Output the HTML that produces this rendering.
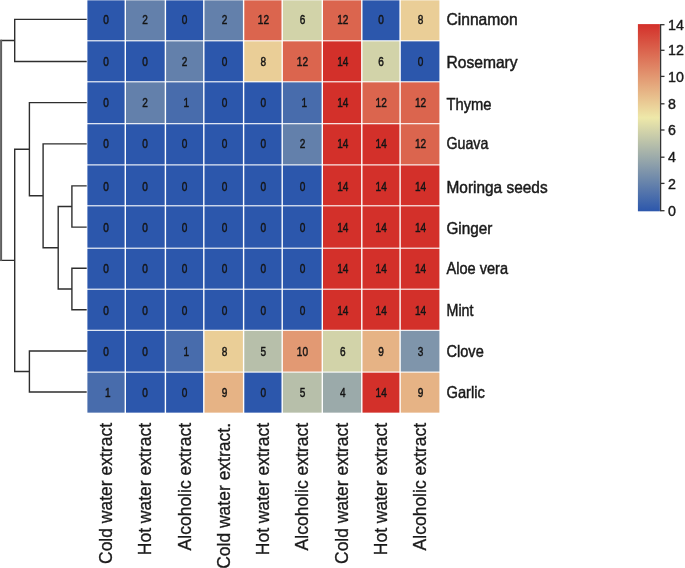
<!DOCTYPE html>
<html><head><meta charset="utf-8"><style>
html,body{margin:0;padding:0;background:#fff;width:685px;height:568px;overflow:hidden}
text{font-family:"Liberation Sans",sans-serif}
</style></head><body>
<svg width="685" height="568" viewBox="0 0 685 568" style="display:block;filter:blur(0.5px)">
<rect x="0" y="0" width="685" height="568" fill="#fff"/>
<rect x="87.40" y="0.35" width="37.20" height="39.90" fill="#2c57ac"/>
<rect x="126.00" y="0.35" width="38.70" height="39.90" fill="#6380ab"/>
<rect x="166.10" y="0.35" width="37.00" height="39.90" fill="#2c57ac"/>
<rect x="204.50" y="0.35" width="38.40" height="39.90" fill="#6380ab"/>
<rect x="244.30" y="0.35" width="37.20" height="39.90" fill="#db654e"/>
<rect x="282.90" y="0.35" width="38.70" height="39.90" fill="#d2d3a9"/>
<rect x="323.00" y="0.35" width="38.10" height="39.90" fill="#db654e"/>
<rect x="362.50" y="0.35" width="36.90" height="39.90" fill="#2c57ac"/>
<rect x="400.80" y="0.35" width="38.60" height="39.90" fill="#eace97"/>
<rect x="87.40" y="41.35" width="37.20" height="39.90" fill="#2c57ac"/>
<rect x="126.00" y="41.35" width="38.70" height="39.90" fill="#2c57ac"/>
<rect x="166.10" y="41.35" width="37.00" height="39.90" fill="#6380ab"/>
<rect x="204.50" y="41.35" width="38.40" height="39.90" fill="#2c57ac"/>
<rect x="244.30" y="41.35" width="37.20" height="39.90" fill="#eace97"/>
<rect x="282.90" y="41.35" width="38.70" height="39.90" fill="#db654e"/>
<rect x="323.00" y="41.35" width="38.10" height="39.90" fill="#d3302a"/>
<rect x="362.50" y="41.35" width="36.90" height="39.90" fill="#d2d3a9"/>
<rect x="400.80" y="41.35" width="38.60" height="39.90" fill="#2c57ac"/>
<rect x="87.40" y="82.35" width="37.20" height="40.80" fill="#2c57ac"/>
<rect x="126.00" y="82.35" width="38.70" height="40.80" fill="#6380ab"/>
<rect x="166.10" y="82.35" width="37.00" height="40.80" fill="#486cac"/>
<rect x="204.50" y="82.35" width="38.40" height="40.80" fill="#2c57ac"/>
<rect x="244.30" y="82.35" width="37.20" height="40.80" fill="#2c57ac"/>
<rect x="282.90" y="82.35" width="38.70" height="40.80" fill="#486cac"/>
<rect x="323.00" y="82.35" width="38.10" height="40.80" fill="#d3302a"/>
<rect x="362.50" y="82.35" width="36.90" height="40.80" fill="#db654e"/>
<rect x="400.80" y="82.35" width="38.60" height="40.80" fill="#db654e"/>
<rect x="87.40" y="124.25" width="37.20" height="40.10" fill="#2c57ac"/>
<rect x="126.00" y="124.25" width="38.70" height="40.10" fill="#2c57ac"/>
<rect x="166.10" y="124.25" width="37.00" height="40.10" fill="#2c57ac"/>
<rect x="204.50" y="124.25" width="38.40" height="40.10" fill="#2c57ac"/>
<rect x="244.30" y="124.25" width="37.20" height="40.10" fill="#2c57ac"/>
<rect x="282.90" y="124.25" width="38.70" height="40.10" fill="#6380ab"/>
<rect x="323.00" y="124.25" width="38.10" height="40.10" fill="#d3302a"/>
<rect x="362.50" y="124.25" width="36.90" height="40.10" fill="#d3302a"/>
<rect x="400.80" y="124.25" width="38.60" height="40.10" fill="#db654e"/>
<rect x="87.40" y="165.45" width="37.20" height="39.80" fill="#2c57ac"/>
<rect x="126.00" y="165.45" width="38.70" height="39.80" fill="#2c57ac"/>
<rect x="166.10" y="165.45" width="37.00" height="39.80" fill="#2c57ac"/>
<rect x="204.50" y="165.45" width="38.40" height="39.80" fill="#2c57ac"/>
<rect x="244.30" y="165.45" width="37.20" height="39.80" fill="#2c57ac"/>
<rect x="282.90" y="165.45" width="38.70" height="39.80" fill="#2c57ac"/>
<rect x="323.00" y="165.45" width="38.10" height="39.80" fill="#d3302a"/>
<rect x="362.50" y="165.45" width="36.90" height="39.80" fill="#d3302a"/>
<rect x="400.80" y="165.45" width="38.60" height="39.80" fill="#d3302a"/>
<rect x="87.40" y="206.35" width="37.20" height="41.30" fill="#2c57ac"/>
<rect x="126.00" y="206.35" width="38.70" height="41.30" fill="#2c57ac"/>
<rect x="166.10" y="206.35" width="37.00" height="41.30" fill="#2c57ac"/>
<rect x="204.50" y="206.35" width="38.40" height="41.30" fill="#2c57ac"/>
<rect x="244.30" y="206.35" width="37.20" height="41.30" fill="#2c57ac"/>
<rect x="282.90" y="206.35" width="38.70" height="41.30" fill="#2c57ac"/>
<rect x="323.00" y="206.35" width="38.10" height="41.30" fill="#d3302a"/>
<rect x="362.50" y="206.35" width="36.90" height="41.30" fill="#d3302a"/>
<rect x="400.80" y="206.35" width="38.60" height="41.30" fill="#d3302a"/>
<rect x="87.40" y="248.75" width="37.20" height="39.90" fill="#2c57ac"/>
<rect x="126.00" y="248.75" width="38.70" height="39.90" fill="#2c57ac"/>
<rect x="166.10" y="248.75" width="37.00" height="39.90" fill="#2c57ac"/>
<rect x="204.50" y="248.75" width="38.40" height="39.90" fill="#2c57ac"/>
<rect x="244.30" y="248.75" width="37.20" height="39.90" fill="#2c57ac"/>
<rect x="282.90" y="248.75" width="38.70" height="39.90" fill="#2c57ac"/>
<rect x="323.00" y="248.75" width="38.10" height="39.90" fill="#d3302a"/>
<rect x="362.50" y="248.75" width="36.90" height="39.90" fill="#d3302a"/>
<rect x="400.80" y="248.75" width="38.60" height="39.90" fill="#d3302a"/>
<rect x="87.40" y="289.75" width="37.20" height="40.00" fill="#2c57ac"/>
<rect x="126.00" y="289.75" width="38.70" height="40.00" fill="#2c57ac"/>
<rect x="166.10" y="289.75" width="37.00" height="40.00" fill="#2c57ac"/>
<rect x="204.50" y="289.75" width="38.40" height="40.00" fill="#2c57ac"/>
<rect x="244.30" y="289.75" width="37.20" height="40.00" fill="#2c57ac"/>
<rect x="282.90" y="289.75" width="38.70" height="40.00" fill="#2c57ac"/>
<rect x="323.00" y="289.75" width="38.10" height="40.00" fill="#d3302a"/>
<rect x="362.50" y="289.75" width="36.90" height="40.00" fill="#d3302a"/>
<rect x="400.80" y="289.75" width="38.60" height="40.00" fill="#d3302a"/>
<rect x="87.40" y="330.85" width="37.20" height="40.70" fill="#2c57ac"/>
<rect x="126.00" y="330.85" width="38.70" height="40.70" fill="#2c57ac"/>
<rect x="166.10" y="330.85" width="37.00" height="40.70" fill="#486cac"/>
<rect x="204.50" y="330.85" width="38.40" height="40.70" fill="#eace97"/>
<rect x="244.30" y="330.85" width="37.20" height="40.70" fill="#b7bfaa"/>
<rect x="282.90" y="330.85" width="38.70" height="40.70" fill="#e29973"/>
<rect x="323.00" y="330.85" width="38.10" height="40.70" fill="#d2d3a9"/>
<rect x="362.50" y="330.85" width="36.90" height="40.70" fill="#e6b385"/>
<rect x="400.80" y="330.85" width="38.60" height="40.70" fill="#7f95ab"/>
<rect x="87.40" y="372.65" width="37.20" height="40.00" fill="#486cac"/>
<rect x="126.00" y="372.65" width="38.70" height="40.00" fill="#2c57ac"/>
<rect x="166.10" y="372.65" width="37.00" height="40.00" fill="#2c57ac"/>
<rect x="204.50" y="372.65" width="38.40" height="40.00" fill="#e6b385"/>
<rect x="244.30" y="372.65" width="37.20" height="40.00" fill="#2c57ac"/>
<rect x="282.90" y="372.65" width="38.70" height="40.00" fill="#b7bfaa"/>
<rect x="323.00" y="372.65" width="38.10" height="40.00" fill="#9baaaa"/>
<rect x="362.50" y="372.65" width="36.90" height="40.00" fill="#d3302a"/>
<rect x="400.80" y="372.65" width="38.60" height="40.00" fill="#e6b385"/>
<g transform="translate(106.00,20.00) scale(0.8,1)"><text x="0" y="0" font-size="12.6" fill="#141414" text-anchor="middle" dominant-baseline="central" font-family="Liberation Sans" font-weight="normal" stroke="#141414" stroke-width="0.45">0</text></g>
<g transform="translate(144.95,20.00) scale(0.8,1)"><text x="0" y="0" font-size="12.6" fill="#141414" text-anchor="middle" dominant-baseline="central" font-family="Liberation Sans" font-weight="normal" stroke="#141414" stroke-width="0.45">2</text></g>
<g transform="translate(184.60,20.00) scale(0.8,1)"><text x="0" y="0" font-size="12.6" fill="#141414" text-anchor="middle" dominant-baseline="central" font-family="Liberation Sans" font-weight="normal" stroke="#141414" stroke-width="0.45">0</text></g>
<g transform="translate(224.50,20.00) scale(0.8,1)"><text x="0" y="0" font-size="12.6" fill="#141414" text-anchor="middle" dominant-baseline="central" font-family="Liberation Sans" font-weight="normal" stroke="#141414" stroke-width="0.45">2</text></g>
<g transform="translate(263.40,20.00) scale(0.8,1)"><text x="0" y="0" font-size="12.6" fill="#141414" text-anchor="middle" dominant-baseline="central" font-family="Liberation Sans" font-weight="normal" stroke="#141414" stroke-width="0.45">12</text></g>
<g transform="translate(302.45,20.00) scale(0.8,1)"><text x="0" y="0" font-size="12.6" fill="#141414" text-anchor="middle" dominant-baseline="central" font-family="Liberation Sans" font-weight="normal" stroke="#141414" stroke-width="0.45">6</text></g>
<g transform="translate(342.85,20.00) scale(0.8,1)"><text x="0" y="0" font-size="12.6" fill="#141414" text-anchor="middle" dominant-baseline="central" font-family="Liberation Sans" font-weight="normal" stroke="#141414" stroke-width="0.45">12</text></g>
<g transform="translate(381.15,20.00) scale(0.8,1)"><text x="0" y="0" font-size="12.6" fill="#141414" text-anchor="middle" dominant-baseline="central" font-family="Liberation Sans" font-weight="normal" stroke="#141414" stroke-width="0.45">0</text></g>
<g transform="translate(420.60,20.00) scale(0.8,1)"><text x="0" y="0" font-size="12.6" fill="#141414" text-anchor="middle" dominant-baseline="central" font-family="Liberation Sans" font-weight="normal" stroke="#141414" stroke-width="0.45">8</text></g>
<g transform="translate(106.00,61.90) scale(0.8,1)"><text x="0" y="0" font-size="12.6" fill="#141414" text-anchor="middle" dominant-baseline="central" font-family="Liberation Sans" font-weight="normal" stroke="#141414" stroke-width="0.45">0</text></g>
<g transform="translate(144.95,61.90) scale(0.8,1)"><text x="0" y="0" font-size="12.6" fill="#141414" text-anchor="middle" dominant-baseline="central" font-family="Liberation Sans" font-weight="normal" stroke="#141414" stroke-width="0.45">0</text></g>
<g transform="translate(184.60,61.90) scale(0.8,1)"><text x="0" y="0" font-size="12.6" fill="#141414" text-anchor="middle" dominant-baseline="central" font-family="Liberation Sans" font-weight="normal" stroke="#141414" stroke-width="0.45">2</text></g>
<g transform="translate(224.50,61.90) scale(0.8,1)"><text x="0" y="0" font-size="12.6" fill="#141414" text-anchor="middle" dominant-baseline="central" font-family="Liberation Sans" font-weight="normal" stroke="#141414" stroke-width="0.45">0</text></g>
<g transform="translate(263.40,61.90) scale(0.8,1)"><text x="0" y="0" font-size="12.6" fill="#141414" text-anchor="middle" dominant-baseline="central" font-family="Liberation Sans" font-weight="normal" stroke="#141414" stroke-width="0.45">8</text></g>
<g transform="translate(302.45,61.90) scale(0.8,1)"><text x="0" y="0" font-size="12.6" fill="#141414" text-anchor="middle" dominant-baseline="central" font-family="Liberation Sans" font-weight="normal" stroke="#141414" stroke-width="0.45">12</text></g>
<g transform="translate(342.85,61.90) scale(0.8,1)"><text x="0" y="0" font-size="12.6" fill="#141414" text-anchor="middle" dominant-baseline="central" font-family="Liberation Sans" font-weight="normal" stroke="#141414" stroke-width="0.45">14</text></g>
<g transform="translate(381.15,61.90) scale(0.8,1)"><text x="0" y="0" font-size="12.6" fill="#141414" text-anchor="middle" dominant-baseline="central" font-family="Liberation Sans" font-weight="normal" stroke="#141414" stroke-width="0.45">6</text></g>
<g transform="translate(420.60,61.90) scale(0.8,1)"><text x="0" y="0" font-size="12.6" fill="#141414" text-anchor="middle" dominant-baseline="central" font-family="Liberation Sans" font-weight="normal" stroke="#141414" stroke-width="0.45">0</text></g>
<g transform="translate(106.00,102.80) scale(0.8,1)"><text x="0" y="0" font-size="12.6" fill="#141414" text-anchor="middle" dominant-baseline="central" font-family="Liberation Sans" font-weight="normal" stroke="#141414" stroke-width="0.45">0</text></g>
<g transform="translate(144.95,102.80) scale(0.8,1)"><text x="0" y="0" font-size="12.6" fill="#141414" text-anchor="middle" dominant-baseline="central" font-family="Liberation Sans" font-weight="normal" stroke="#141414" stroke-width="0.45">2</text></g>
<g transform="translate(186.40,102.80) scale(0.8,1)"><text x="0" y="0" font-size="12.6" fill="#141414" text-anchor="middle" dominant-baseline="central" font-family="Liberation Sans" font-weight="normal" stroke="#141414" stroke-width="0.45">1</text></g>
<g transform="translate(224.50,102.80) scale(0.8,1)"><text x="0" y="0" font-size="12.6" fill="#141414" text-anchor="middle" dominant-baseline="central" font-family="Liberation Sans" font-weight="normal" stroke="#141414" stroke-width="0.45">0</text></g>
<g transform="translate(263.40,102.80) scale(0.8,1)"><text x="0" y="0" font-size="12.6" fill="#141414" text-anchor="middle" dominant-baseline="central" font-family="Liberation Sans" font-weight="normal" stroke="#141414" stroke-width="0.45">0</text></g>
<g transform="translate(304.25,102.80) scale(0.8,1)"><text x="0" y="0" font-size="12.6" fill="#141414" text-anchor="middle" dominant-baseline="central" font-family="Liberation Sans" font-weight="normal" stroke="#141414" stroke-width="0.45">1</text></g>
<g transform="translate(342.85,102.80) scale(0.8,1)"><text x="0" y="0" font-size="12.6" fill="#141414" text-anchor="middle" dominant-baseline="central" font-family="Liberation Sans" font-weight="normal" stroke="#141414" stroke-width="0.45">14</text></g>
<g transform="translate(381.15,102.80) scale(0.8,1)"><text x="0" y="0" font-size="12.6" fill="#141414" text-anchor="middle" dominant-baseline="central" font-family="Liberation Sans" font-weight="normal" stroke="#141414" stroke-width="0.45">12</text></g>
<g transform="translate(420.60,102.80) scale(0.8,1)"><text x="0" y="0" font-size="12.6" fill="#141414" text-anchor="middle" dominant-baseline="central" font-family="Liberation Sans" font-weight="normal" stroke="#141414" stroke-width="0.45">12</text></g>
<g transform="translate(106.00,143.70) scale(0.8,1)"><text x="0" y="0" font-size="12.6" fill="#141414" text-anchor="middle" dominant-baseline="central" font-family="Liberation Sans" font-weight="normal" stroke="#141414" stroke-width="0.45">0</text></g>
<g transform="translate(144.95,143.70) scale(0.8,1)"><text x="0" y="0" font-size="12.6" fill="#141414" text-anchor="middle" dominant-baseline="central" font-family="Liberation Sans" font-weight="normal" stroke="#141414" stroke-width="0.45">0</text></g>
<g transform="translate(184.60,143.70) scale(0.8,1)"><text x="0" y="0" font-size="12.6" fill="#141414" text-anchor="middle" dominant-baseline="central" font-family="Liberation Sans" font-weight="normal" stroke="#141414" stroke-width="0.45">0</text></g>
<g transform="translate(224.50,143.70) scale(0.8,1)"><text x="0" y="0" font-size="12.6" fill="#141414" text-anchor="middle" dominant-baseline="central" font-family="Liberation Sans" font-weight="normal" stroke="#141414" stroke-width="0.45">0</text></g>
<g transform="translate(263.40,143.70) scale(0.8,1)"><text x="0" y="0" font-size="12.6" fill="#141414" text-anchor="middle" dominant-baseline="central" font-family="Liberation Sans" font-weight="normal" stroke="#141414" stroke-width="0.45">0</text></g>
<g transform="translate(302.45,143.70) scale(0.8,1)"><text x="0" y="0" font-size="12.6" fill="#141414" text-anchor="middle" dominant-baseline="central" font-family="Liberation Sans" font-weight="normal" stroke="#141414" stroke-width="0.45">2</text></g>
<g transform="translate(342.85,143.70) scale(0.8,1)"><text x="0" y="0" font-size="12.6" fill="#141414" text-anchor="middle" dominant-baseline="central" font-family="Liberation Sans" font-weight="normal" stroke="#141414" stroke-width="0.45">14</text></g>
<g transform="translate(381.15,143.70) scale(0.8,1)"><text x="0" y="0" font-size="12.6" fill="#141414" text-anchor="middle" dominant-baseline="central" font-family="Liberation Sans" font-weight="normal" stroke="#141414" stroke-width="0.45">14</text></g>
<g transform="translate(420.60,143.70) scale(0.8,1)"><text x="0" y="0" font-size="12.6" fill="#141414" text-anchor="middle" dominant-baseline="central" font-family="Liberation Sans" font-weight="normal" stroke="#141414" stroke-width="0.45">12</text></g>
<g transform="translate(106.00,186.25) scale(0.8,1)"><text x="0" y="0" font-size="12.6" fill="#141414" text-anchor="middle" dominant-baseline="central" font-family="Liberation Sans" font-weight="normal" stroke="#141414" stroke-width="0.45">0</text></g>
<g transform="translate(144.95,186.25) scale(0.8,1)"><text x="0" y="0" font-size="12.6" fill="#141414" text-anchor="middle" dominant-baseline="central" font-family="Liberation Sans" font-weight="normal" stroke="#141414" stroke-width="0.45">0</text></g>
<g transform="translate(184.60,186.25) scale(0.8,1)"><text x="0" y="0" font-size="12.6" fill="#141414" text-anchor="middle" dominant-baseline="central" font-family="Liberation Sans" font-weight="normal" stroke="#141414" stroke-width="0.45">0</text></g>
<g transform="translate(224.50,186.25) scale(0.8,1)"><text x="0" y="0" font-size="12.6" fill="#141414" text-anchor="middle" dominant-baseline="central" font-family="Liberation Sans" font-weight="normal" stroke="#141414" stroke-width="0.45">0</text></g>
<g transform="translate(263.40,186.25) scale(0.8,1)"><text x="0" y="0" font-size="12.6" fill="#141414" text-anchor="middle" dominant-baseline="central" font-family="Liberation Sans" font-weight="normal" stroke="#141414" stroke-width="0.45">0</text></g>
<g transform="translate(302.45,186.25) scale(0.8,1)"><text x="0" y="0" font-size="12.6" fill="#141414" text-anchor="middle" dominant-baseline="central" font-family="Liberation Sans" font-weight="normal" stroke="#141414" stroke-width="0.45">0</text></g>
<g transform="translate(342.85,186.25) scale(0.8,1)"><text x="0" y="0" font-size="12.6" fill="#141414" text-anchor="middle" dominant-baseline="central" font-family="Liberation Sans" font-weight="normal" stroke="#141414" stroke-width="0.45">14</text></g>
<g transform="translate(381.15,186.25) scale(0.8,1)"><text x="0" y="0" font-size="12.6" fill="#141414" text-anchor="middle" dominant-baseline="central" font-family="Liberation Sans" font-weight="normal" stroke="#141414" stroke-width="0.45">14</text></g>
<g transform="translate(420.60,186.25) scale(0.8,1)"><text x="0" y="0" font-size="12.6" fill="#141414" text-anchor="middle" dominant-baseline="central" font-family="Liberation Sans" font-weight="normal" stroke="#141414" stroke-width="0.45">14</text></g>
<g transform="translate(106.00,227.30) scale(0.8,1)"><text x="0" y="0" font-size="12.6" fill="#141414" text-anchor="middle" dominant-baseline="central" font-family="Liberation Sans" font-weight="normal" stroke="#141414" stroke-width="0.45">0</text></g>
<g transform="translate(144.95,227.30) scale(0.8,1)"><text x="0" y="0" font-size="12.6" fill="#141414" text-anchor="middle" dominant-baseline="central" font-family="Liberation Sans" font-weight="normal" stroke="#141414" stroke-width="0.45">0</text></g>
<g transform="translate(184.60,227.30) scale(0.8,1)"><text x="0" y="0" font-size="12.6" fill="#141414" text-anchor="middle" dominant-baseline="central" font-family="Liberation Sans" font-weight="normal" stroke="#141414" stroke-width="0.45">0</text></g>
<g transform="translate(224.50,227.30) scale(0.8,1)"><text x="0" y="0" font-size="12.6" fill="#141414" text-anchor="middle" dominant-baseline="central" font-family="Liberation Sans" font-weight="normal" stroke="#141414" stroke-width="0.45">0</text></g>
<g transform="translate(263.40,227.30) scale(0.8,1)"><text x="0" y="0" font-size="12.6" fill="#141414" text-anchor="middle" dominant-baseline="central" font-family="Liberation Sans" font-weight="normal" stroke="#141414" stroke-width="0.45">0</text></g>
<g transform="translate(302.45,227.30) scale(0.8,1)"><text x="0" y="0" font-size="12.6" fill="#141414" text-anchor="middle" dominant-baseline="central" font-family="Liberation Sans" font-weight="normal" stroke="#141414" stroke-width="0.45">0</text></g>
<g transform="translate(342.85,227.30) scale(0.8,1)"><text x="0" y="0" font-size="12.6" fill="#141414" text-anchor="middle" dominant-baseline="central" font-family="Liberation Sans" font-weight="normal" stroke="#141414" stroke-width="0.45">14</text></g>
<g transform="translate(381.15,227.30) scale(0.8,1)"><text x="0" y="0" font-size="12.6" fill="#141414" text-anchor="middle" dominant-baseline="central" font-family="Liberation Sans" font-weight="normal" stroke="#141414" stroke-width="0.45">14</text></g>
<g transform="translate(420.60,227.30) scale(0.8,1)"><text x="0" y="0" font-size="12.6" fill="#141414" text-anchor="middle" dominant-baseline="central" font-family="Liberation Sans" font-weight="normal" stroke="#141414" stroke-width="0.45">14</text></g>
<g transform="translate(106.00,268.40) scale(0.8,1)"><text x="0" y="0" font-size="12.6" fill="#141414" text-anchor="middle" dominant-baseline="central" font-family="Liberation Sans" font-weight="normal" stroke="#141414" stroke-width="0.45">0</text></g>
<g transform="translate(144.95,268.40) scale(0.8,1)"><text x="0" y="0" font-size="12.6" fill="#141414" text-anchor="middle" dominant-baseline="central" font-family="Liberation Sans" font-weight="normal" stroke="#141414" stroke-width="0.45">0</text></g>
<g transform="translate(184.60,268.40) scale(0.8,1)"><text x="0" y="0" font-size="12.6" fill="#141414" text-anchor="middle" dominant-baseline="central" font-family="Liberation Sans" font-weight="normal" stroke="#141414" stroke-width="0.45">0</text></g>
<g transform="translate(224.50,268.40) scale(0.8,1)"><text x="0" y="0" font-size="12.6" fill="#141414" text-anchor="middle" dominant-baseline="central" font-family="Liberation Sans" font-weight="normal" stroke="#141414" stroke-width="0.45">0</text></g>
<g transform="translate(263.40,268.40) scale(0.8,1)"><text x="0" y="0" font-size="12.6" fill="#141414" text-anchor="middle" dominant-baseline="central" font-family="Liberation Sans" font-weight="normal" stroke="#141414" stroke-width="0.45">0</text></g>
<g transform="translate(302.45,268.40) scale(0.8,1)"><text x="0" y="0" font-size="12.6" fill="#141414" text-anchor="middle" dominant-baseline="central" font-family="Liberation Sans" font-weight="normal" stroke="#141414" stroke-width="0.45">0</text></g>
<g transform="translate(342.85,268.40) scale(0.8,1)"><text x="0" y="0" font-size="12.6" fill="#141414" text-anchor="middle" dominant-baseline="central" font-family="Liberation Sans" font-weight="normal" stroke="#141414" stroke-width="0.45">14</text></g>
<g transform="translate(381.15,268.40) scale(0.8,1)"><text x="0" y="0" font-size="12.6" fill="#141414" text-anchor="middle" dominant-baseline="central" font-family="Liberation Sans" font-weight="normal" stroke="#141414" stroke-width="0.45">14</text></g>
<g transform="translate(420.60,268.40) scale(0.8,1)"><text x="0" y="0" font-size="12.6" fill="#141414" text-anchor="middle" dominant-baseline="central" font-family="Liberation Sans" font-weight="normal" stroke="#141414" stroke-width="0.45">14</text></g>
<g transform="translate(106.00,310.70) scale(0.8,1)"><text x="0" y="0" font-size="12.6" fill="#141414" text-anchor="middle" dominant-baseline="central" font-family="Liberation Sans" font-weight="normal" stroke="#141414" stroke-width="0.45">0</text></g>
<g transform="translate(144.95,310.70) scale(0.8,1)"><text x="0" y="0" font-size="12.6" fill="#141414" text-anchor="middle" dominant-baseline="central" font-family="Liberation Sans" font-weight="normal" stroke="#141414" stroke-width="0.45">0</text></g>
<g transform="translate(184.60,310.70) scale(0.8,1)"><text x="0" y="0" font-size="12.6" fill="#141414" text-anchor="middle" dominant-baseline="central" font-family="Liberation Sans" font-weight="normal" stroke="#141414" stroke-width="0.45">0</text></g>
<g transform="translate(224.50,310.70) scale(0.8,1)"><text x="0" y="0" font-size="12.6" fill="#141414" text-anchor="middle" dominant-baseline="central" font-family="Liberation Sans" font-weight="normal" stroke="#141414" stroke-width="0.45">0</text></g>
<g transform="translate(263.40,310.70) scale(0.8,1)"><text x="0" y="0" font-size="12.6" fill="#141414" text-anchor="middle" dominant-baseline="central" font-family="Liberation Sans" font-weight="normal" stroke="#141414" stroke-width="0.45">0</text></g>
<g transform="translate(302.45,310.70) scale(0.8,1)"><text x="0" y="0" font-size="12.6" fill="#141414" text-anchor="middle" dominant-baseline="central" font-family="Liberation Sans" font-weight="normal" stroke="#141414" stroke-width="0.45">0</text></g>
<g transform="translate(342.85,310.70) scale(0.8,1)"><text x="0" y="0" font-size="12.6" fill="#141414" text-anchor="middle" dominant-baseline="central" font-family="Liberation Sans" font-weight="normal" stroke="#141414" stroke-width="0.45">14</text></g>
<g transform="translate(381.15,310.70) scale(0.8,1)"><text x="0" y="0" font-size="12.6" fill="#141414" text-anchor="middle" dominant-baseline="central" font-family="Liberation Sans" font-weight="normal" stroke="#141414" stroke-width="0.45">14</text></g>
<g transform="translate(420.60,310.70) scale(0.8,1)"><text x="0" y="0" font-size="12.6" fill="#141414" text-anchor="middle" dominant-baseline="central" font-family="Liberation Sans" font-weight="normal" stroke="#141414" stroke-width="0.45">14</text></g>
<g transform="translate(106.00,351.15) scale(0.8,1)"><text x="0" y="0" font-size="12.6" fill="#141414" text-anchor="middle" dominant-baseline="central" font-family="Liberation Sans" font-weight="normal" stroke="#141414" stroke-width="0.45">0</text></g>
<g transform="translate(144.95,351.15) scale(0.8,1)"><text x="0" y="0" font-size="12.6" fill="#141414" text-anchor="middle" dominant-baseline="central" font-family="Liberation Sans" font-weight="normal" stroke="#141414" stroke-width="0.45">0</text></g>
<g transform="translate(186.40,351.15) scale(0.8,1)"><text x="0" y="0" font-size="12.6" fill="#141414" text-anchor="middle" dominant-baseline="central" font-family="Liberation Sans" font-weight="normal" stroke="#141414" stroke-width="0.45">1</text></g>
<g transform="translate(224.50,351.15) scale(0.8,1)"><text x="0" y="0" font-size="12.6" fill="#141414" text-anchor="middle" dominant-baseline="central" font-family="Liberation Sans" font-weight="normal" stroke="#141414" stroke-width="0.45">8</text></g>
<g transform="translate(263.40,351.15) scale(0.8,1)"><text x="0" y="0" font-size="12.6" fill="#141414" text-anchor="middle" dominant-baseline="central" font-family="Liberation Sans" font-weight="normal" stroke="#141414" stroke-width="0.45">5</text></g>
<g transform="translate(302.45,351.15) scale(0.8,1)"><text x="0" y="0" font-size="12.6" fill="#141414" text-anchor="middle" dominant-baseline="central" font-family="Liberation Sans" font-weight="normal" stroke="#141414" stroke-width="0.45">10</text></g>
<g transform="translate(342.85,351.15) scale(0.8,1)"><text x="0" y="0" font-size="12.6" fill="#141414" text-anchor="middle" dominant-baseline="central" font-family="Liberation Sans" font-weight="normal" stroke="#141414" stroke-width="0.45">6</text></g>
<g transform="translate(381.15,351.15) scale(0.8,1)"><text x="0" y="0" font-size="12.6" fill="#141414" text-anchor="middle" dominant-baseline="central" font-family="Liberation Sans" font-weight="normal" stroke="#141414" stroke-width="0.45">9</text></g>
<g transform="translate(420.60,351.15) scale(0.8,1)"><text x="0" y="0" font-size="12.6" fill="#141414" text-anchor="middle" dominant-baseline="central" font-family="Liberation Sans" font-weight="normal" stroke="#141414" stroke-width="0.45">3</text></g>
<g transform="translate(107.80,392.30) scale(0.8,1)"><text x="0" y="0" font-size="12.6" fill="#141414" text-anchor="middle" dominant-baseline="central" font-family="Liberation Sans" font-weight="normal" stroke="#141414" stroke-width="0.45">1</text></g>
<g transform="translate(144.95,392.30) scale(0.8,1)"><text x="0" y="0" font-size="12.6" fill="#141414" text-anchor="middle" dominant-baseline="central" font-family="Liberation Sans" font-weight="normal" stroke="#141414" stroke-width="0.45">0</text></g>
<g transform="translate(184.60,392.30) scale(0.8,1)"><text x="0" y="0" font-size="12.6" fill="#141414" text-anchor="middle" dominant-baseline="central" font-family="Liberation Sans" font-weight="normal" stroke="#141414" stroke-width="0.45">0</text></g>
<g transform="translate(224.50,392.30) scale(0.8,1)"><text x="0" y="0" font-size="12.6" fill="#141414" text-anchor="middle" dominant-baseline="central" font-family="Liberation Sans" font-weight="normal" stroke="#141414" stroke-width="0.45">9</text></g>
<g transform="translate(263.40,392.30) scale(0.8,1)"><text x="0" y="0" font-size="12.6" fill="#141414" text-anchor="middle" dominant-baseline="central" font-family="Liberation Sans" font-weight="normal" stroke="#141414" stroke-width="0.45">0</text></g>
<g transform="translate(302.45,392.30) scale(0.8,1)"><text x="0" y="0" font-size="12.6" fill="#141414" text-anchor="middle" dominant-baseline="central" font-family="Liberation Sans" font-weight="normal" stroke="#141414" stroke-width="0.45">5</text></g>
<g transform="translate(342.85,392.30) scale(0.8,1)"><text x="0" y="0" font-size="12.6" fill="#141414" text-anchor="middle" dominant-baseline="central" font-family="Liberation Sans" font-weight="normal" stroke="#141414" stroke-width="0.45">4</text></g>
<g transform="translate(381.15,392.30) scale(0.8,1)"><text x="0" y="0" font-size="12.6" fill="#141414" text-anchor="middle" dominant-baseline="central" font-family="Liberation Sans" font-weight="normal" stroke="#141414" stroke-width="0.45">14</text></g>
<g transform="translate(420.60,392.30) scale(0.8,1)"><text x="0" y="0" font-size="12.6" fill="#141414" text-anchor="middle" dominant-baseline="central" font-family="Liberation Sans" font-weight="normal" stroke="#141414" stroke-width="0.45">9</text></g>
<g transform="translate(446.5,19.50) scale(1.0075,1.05)"><text x="0" y="0" font-size="15.5" fill="#1a1a1a" dominant-baseline="central" font-family="Liberation Sans" stroke="#1a1a1a" stroke-width="0.45">Cinnamon</text></g>
<g transform="translate(446.5,62.40) scale(1.0075,1.05)"><text x="0" y="0" font-size="15.5" fill="#1a1a1a" dominant-baseline="central" font-family="Liberation Sans" stroke="#1a1a1a" stroke-width="0.45">Rosemary</text></g>
<g transform="translate(446.5,103.80) scale(0.95,1.05)"><text x="0" y="0" font-size="15.5" fill="#1a1a1a" dominant-baseline="central" font-family="Liberation Sans" stroke="#1a1a1a" stroke-width="0.45">Thyme</text></g>
<g transform="translate(446.5,143.60) scale(0.917,1.05)"><text x="0" y="0" font-size="15.5" fill="#1a1a1a" dominant-baseline="central" font-family="Liberation Sans" stroke="#1a1a1a" stroke-width="0.45">Guava</text></g>
<g transform="translate(446.5,187.50) scale(0.995,1.05)"><text x="0" y="0" font-size="15.5" fill="#1a1a1a" dominant-baseline="central" font-family="Liberation Sans" stroke="#1a1a1a" stroke-width="0.45">Moringa seeds</text></g>
<g transform="translate(446.5,228.05) scale(0.985,1.05)"><text x="0" y="0" font-size="15.5" fill="#1a1a1a" dominant-baseline="central" font-family="Liberation Sans" stroke="#1a1a1a" stroke-width="0.45">Ginger</text></g>
<g transform="translate(446.5,268.05) scale(0.941,1.05)"><text x="0" y="0" font-size="15.5" fill="#1a1a1a" dominant-baseline="central" font-family="Liberation Sans" stroke="#1a1a1a" stroke-width="0.45">Aloe vera</text></g>
<g transform="translate(446.5,310.25) scale(0.92,1.05)"><text x="0" y="0" font-size="15.5" fill="#1a1a1a" dominant-baseline="central" font-family="Liberation Sans" stroke="#1a1a1a" stroke-width="0.45">Mint</text></g>
<g transform="translate(446.5,351.05) scale(0.941,1.05)"><text x="0" y="0" font-size="15.5" fill="#1a1a1a" dominant-baseline="central" font-family="Liberation Sans" stroke="#1a1a1a" stroke-width="0.45">Clove</text></g>
<g transform="translate(446.5,392.05) scale(0.948,1.05)"><text x="0" y="0" font-size="15.5" fill="#1a1a1a" dominant-baseline="central" font-family="Liberation Sans" stroke="#1a1a1a" stroke-width="0.45">Garlic</text></g>
<g transform="translate(106.00,423) rotate(-90) scale(1,1.05)"><text x="0" y="0" font-size="17.5" fill="#1a1a1a" text-anchor="end" dominant-baseline="central" font-family="Liberation Sans" letter-spacing="0" stroke="#1a1a1a" stroke-width="0.3">Cold water extract</text></g>
<g transform="translate(145.35,423) rotate(-90) scale(1,1.05)"><text x="0" y="0" font-size="17.5" fill="#1a1a1a" text-anchor="end" dominant-baseline="central" font-family="Liberation Sans" letter-spacing="0" stroke="#1a1a1a" stroke-width="0.3">Hot water extract</text></g>
<g transform="translate(184.60,423) rotate(-90) scale(1,1.05)"><text x="0" y="0" font-size="17.5" fill="#1a1a1a" text-anchor="end" dominant-baseline="central" font-family="Liberation Sans" letter-spacing="0" stroke="#1a1a1a" stroke-width="0.3">Alcoholic extract</text></g>
<g transform="translate(223.70,423) rotate(-90) scale(1,1.05)"><text x="0" y="0" font-size="17.5" fill="#1a1a1a" text-anchor="end" dominant-baseline="central" font-family="Liberation Sans" letter-spacing="0" stroke="#1a1a1a" stroke-width="0.3">Cold water extract.</text></g>
<g transform="translate(262.90,423) rotate(-90) scale(1,1.05)"><text x="0" y="0" font-size="17.5" fill="#1a1a1a" text-anchor="end" dominant-baseline="central" font-family="Liberation Sans" letter-spacing="0" stroke="#1a1a1a" stroke-width="0.3">Hot water extract</text></g>
<g transform="translate(302.25,423) rotate(-90) scale(1,1.05)"><text x="0" y="0" font-size="17.5" fill="#1a1a1a" text-anchor="end" dominant-baseline="central" font-family="Liberation Sans" letter-spacing="0" stroke="#1a1a1a" stroke-width="0.3">Alcoholic extract</text></g>
<g transform="translate(342.05,423) rotate(-90) scale(1,1.05)"><text x="0" y="0" font-size="17.5" fill="#1a1a1a" text-anchor="end" dominant-baseline="central" font-family="Liberation Sans" letter-spacing="0" stroke="#1a1a1a" stroke-width="0.3">Cold water extract</text></g>
<g transform="translate(380.95,423) rotate(-90) scale(1,1.05)"><text x="0" y="0" font-size="17.5" fill="#1a1a1a" text-anchor="end" dominant-baseline="central" font-family="Liberation Sans" letter-spacing="0" stroke="#1a1a1a" stroke-width="0.3">Hot water extract</text></g>
<g transform="translate(420.10,423) rotate(-90) scale(1,1.05)"><text x="0" y="0" font-size="17.5" fill="#1a1a1a" text-anchor="end" dominant-baseline="central" font-family="Liberation Sans" letter-spacing="0" stroke="#1a1a1a" stroke-width="0.3">Alcoholic extract</text></g>
<path d="M14.70 19.40L86.00 19.40 M14.70 61.50L86.00 61.50 M14.70 19.40L14.70 61.50 M71.90 185.90L86.00 185.90 M71.90 227.10L86.00 227.10 M71.90 185.90L71.90 227.10 M71.90 268.30L86.00 268.30 M71.90 309.70L86.00 309.70 M71.90 268.30L71.90 309.70 M58.20 206.50L71.90 206.50 M58.20 289.00L71.90 289.00 M58.20 206.50L58.20 289.00 M43.10 143.90L86.00 143.90 M43.10 247.75L58.20 247.75 M43.10 143.90L43.10 247.75 M29.40 102.60L86.00 102.60 M29.40 195.82L43.10 195.82 M29.40 102.60L29.40 195.82 M29.40 351.00L86.00 351.00 M29.40 392.00L86.00 392.00 M29.40 351.00L29.40 392.00 M14.70 149.21L29.40 149.21 M14.70 371.50L29.40 371.50 M14.70 149.21L14.70 371.50 M1.10 40.45L14.70 40.45 M1.10 260.36L14.70 260.36" stroke="#2e2e2e" stroke-width="1.4" fill="none" stroke-linecap="square"/>
<path d="M1.1 39.75L1.1 261.06" stroke="#5e5e5e" stroke-width="2.0" fill="none"/>
<defs><linearGradient id="lg" x1="0" y1="1" x2="0" y2="0"><stop offset="0" stop-color="#2c57ac"/><stop offset="0.5" stop-color="#eee8a9"/><stop offset="1" stop-color="#d3302a"/></linearGradient></defs>
<rect x="637.9" y="24.1" width="22.00" height="187.20" fill="url(#lg)"/>
<path d="M660.6 24.1L660.6 211.3" stroke="#333" stroke-width="1.3"/>
<path d="M660.6 24.70L664.5 24.70" stroke="#333" stroke-width="1.3"/>
<g transform="translate(668,24.70) scale(0.95,1.0)"><text x="0" y="0" font-size="15" fill="#1a1a1a" dominant-baseline="central" font-family="Liberation Sans" stroke="#1a1a1a" stroke-width="0.4">14</text></g>
<path d="M660.6 50.30L664.5 50.30" stroke="#333" stroke-width="1.3"/>
<g transform="translate(668,50.30) scale(0.95,1.0)"><text x="0" y="0" font-size="15" fill="#1a1a1a" dominant-baseline="central" font-family="Liberation Sans" stroke="#1a1a1a" stroke-width="0.4">12</text></g>
<path d="M660.6 76.40L664.5 76.40" stroke="#333" stroke-width="1.3"/>
<g transform="translate(668,76.40) scale(0.95,1.0)"><text x="0" y="0" font-size="15" fill="#1a1a1a" dominant-baseline="central" font-family="Liberation Sans" stroke="#1a1a1a" stroke-width="0.4">10</text></g>
<path d="M660.6 103.80L664.5 103.80" stroke="#333" stroke-width="1.3"/>
<g transform="translate(668,103.80) scale(0.95,1.0)"><text x="0" y="0" font-size="15" fill="#1a1a1a" dominant-baseline="central" font-family="Liberation Sans" stroke="#1a1a1a" stroke-width="0.4">8</text></g>
<path d="M660.6 130.00L664.5 130.00" stroke="#333" stroke-width="1.3"/>
<g transform="translate(668,130.00) scale(0.95,1.0)"><text x="0" y="0" font-size="15" fill="#1a1a1a" dominant-baseline="central" font-family="Liberation Sans" stroke="#1a1a1a" stroke-width="0.4">6</text></g>
<path d="M660.6 157.20L664.5 157.20" stroke="#333" stroke-width="1.3"/>
<g transform="translate(668,157.20) scale(0.95,1.0)"><text x="0" y="0" font-size="15" fill="#1a1a1a" dominant-baseline="central" font-family="Liberation Sans" stroke="#1a1a1a" stroke-width="0.4">4</text></g>
<path d="M660.6 183.40L664.5 183.40" stroke="#333" stroke-width="1.3"/>
<g transform="translate(668,183.40) scale(0.95,1.0)"><text x="0" y="0" font-size="15" fill="#1a1a1a" dominant-baseline="central" font-family="Liberation Sans" stroke="#1a1a1a" stroke-width="0.4">2</text></g>
<path d="M660.6 210.70L664.5 210.70" stroke="#333" stroke-width="1.3"/>
<g transform="translate(668,210.70) scale(0.95,1.0)"><text x="0" y="0" font-size="15" fill="#1a1a1a" dominant-baseline="central" font-family="Liberation Sans" stroke="#1a1a1a" stroke-width="0.4">0</text></g>
</svg>
</body></html>
